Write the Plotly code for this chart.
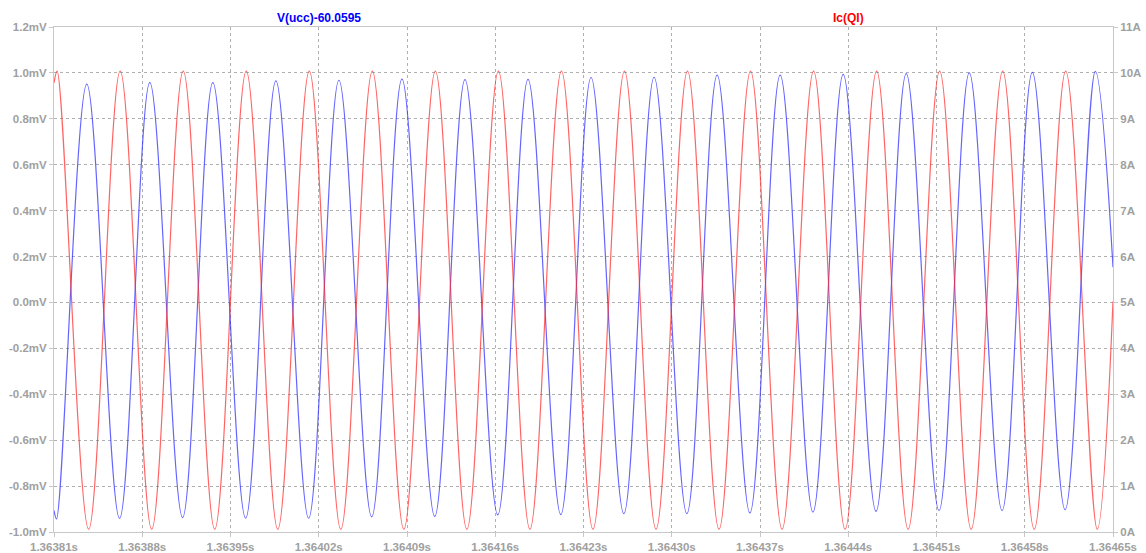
import plotly.graph_objects as go

# V(ucc)-60.0595 in mV: waveform endpoints plus every trough and crest
v_start = (1.36381, -0.906)
v_end = (1.36465, 0.153)
v_trough_t = [1.363812, 1.363862, 1.363912, 1.363962, 1.364012, 1.364062,
              1.364112, 1.364162, 1.364212, 1.364262, 1.364312, 1.364362,
              1.364412, 1.364462, 1.364512, 1.364562, 1.364612]
v_trough = [-0.943, -0.941, -0.937, -0.940, -0.940, -0.934, -0.932, -0.925,
            -0.924, -0.920, -0.920, -0.917, -0.913, -0.910, -0.907, -0.907,
            -0.903]
v_peak_t = [1.363836, 1.363886, 1.363936, 1.363986, 1.364036, 1.364086,
            1.364136, 1.364186, 1.364236, 1.364286, 1.364336, 1.364386,
            1.364436, 1.364486, 1.364536, 1.364586, 1.364636]
v_peak = [0.951, 0.958, 0.958, 0.965, 0.968, 0.973, 0.971, 0.972, 0.980,
          0.981, 0.990, 0.990, 0.994, 0.997, 1.000, 1.002, 1.007]

# Ic(QI) in A: waveform endpoints plus every crest and trough
i_start = (1.36381, 9.78)
i_end = (1.36465, 5.02)
i_peak_t = [1.3638125, 1.3638625, 1.3639125, 1.3639625, 1.3640125, 1.3640625,
            1.3641125, 1.3641625, 1.3642125, 1.3642625, 1.3643125, 1.3643625,
            1.3644125, 1.3644625, 1.3645125, 1.3645625, 1.3646125]
i_peak = [10.04, 10.04, 10.04, 10.04, 10.04, 10.04, 10.04, 10.04, 10.04,
          10.04, 10.04, 10.04, 10.04, 10.04, 10.04, 10.04, 10.04]
i_trough_t = [1.3638375, 1.3638875, 1.3639375, 1.3639875, 1.3640375,
              1.3640875, 1.3641375, 1.3641875, 1.3642375, 1.3642875,
              1.3643375, 1.3643875, 1.3644375, 1.3644875, 1.3645375,
              1.3645875, 1.3646375]
i_trough = [0.06, 0.06, 0.06, 0.06, 0.06, 0.06, 0.06, 0.06, 0.06, 0.06,
            0.06, 0.06, 0.06, 0.06, 0.06, 0.06, 0.06]

# Axis ticks
x_ticks = [1.36381, 1.36388, 1.36395, 1.36402, 1.36409, 1.36416, 1.36423,
           1.36430, 1.36437, 1.36444, 1.36451, 1.36458, 1.36465]
x_labels = ["1.36381s", "1.36388s", "1.36395s", "1.36402s", "1.36409s",
            "1.36416s", "1.36423s", "1.36430s", "1.36437s", "1.36444s",
            "1.36451s", "1.36458s", "1.36465s"]
mv_ticks = [-1.0, -0.8, -0.6, -0.4, -0.2, 0.0, 0.2, 0.4, 0.6, 0.8, 1.0, 1.2]
mv_labels = ["-1.0mV", "-0.8mV", "-0.6mV", "-0.4mV", "-0.2mV", "0.0mV",
             "0.2mV", "0.4mV", "0.6mV", "0.8mV", "1.0mV", "1.2mV"]
a_ticks = [0, 1, 2, 3, 4, 5, 6, 7, 8, 9, 10, 11]
a_labels = ["0A", "1A", "2A", "3A", "4A", "5A", "6A", "7A", "8A", "9A",
            "10A", "11A"]


def series(start, end, *pairs):
    pts = []
    for ts, vs in pairs:
        pts.extend(zip(ts, vs))
    pts.sort()
    pts = [start] + pts + [end]
    return [p[0] for p in pts], [p[1] for p in pts]


vx, vy = series(v_start, v_end, (v_trough_t, v_trough), (v_peak_t, v_peak))
ix, iy = series(i_start, i_end, (i_peak_t, i_peak), (i_trough_t, i_trough))

BLUE = "rgba(40,40,255,0.72)"
RED = "rgba(255,40,40,0.72)"
TXT = "#a0a0a0"
FRAME = "#c8c8c8"
GRID = "#b0b0b0"
FONT = "Liberation Sans"

fig = go.Figure()
fig.add_trace(go.Scatter(x=vx, y=vy, mode="lines", name="V(ucc)-60.0595",
                         line=dict(color=BLUE, width=1.2, shape="spline", smoothing=1),
                         yaxis="y"))
fig.add_trace(go.Scatter(x=ix, y=iy, mode="lines", name="Ic(QI)",
                         line=dict(color=RED, width=1.2, shape="spline", smoothing=1),
                         yaxis="y2"))

tickfont = dict(family=FONT, size=11.5, color=TXT, weight="bold")

fig.update_layout(
    width=1146, height=553,
    margin=dict(l=54, r=33, t=27, b=21),
    paper_bgcolor="white", plot_bgcolor="white",
    showlegend=False,
    xaxis=dict(range=[1.36381, 1.36465], tickvals=x_ticks, ticktext=x_labels,
               showgrid=True, gridcolor=GRID, griddash="dot", gridwidth=1,
               showline=True, linecolor=FRAME, linewidth=1, mirror=True,
               ticks="outside", ticklen=4, tickcolor=FRAME, automargin=False,
               tickfont=tickfont, zeroline=False),
    yaxis=dict(range=[-1.0, 1.2], tickvals=mv_ticks, ticktext=mv_labels,
               showgrid=True, gridcolor=GRID, griddash="dot", gridwidth=1,
               showline=True, linecolor=FRAME, linewidth=1, automargin=False,
               ticks="outside", ticklen=4, tickcolor=FRAME,
               tickfont=tickfont, zeroline=False),
    yaxis2=dict(range=[0, 11], tickvals=a_ticks, ticktext=a_labels,
                overlaying="y", side="right", showgrid=False,
                showline=True, linecolor=FRAME, linewidth=1, automargin=False,
                ticks="outside", ticklen=4, tickcolor=FRAME,
                tickfont=tickfont, zeroline=False),
    annotations=[
        dict(text="V(ucc)-60.0595", x=0.25, y=1, xref="paper", yref="paper",
             xanchor="center", yanchor="middle", yshift=9, showarrow=False,
             font=dict(family=FONT, size=12, color="#0000ff", weight="bold")),
        dict(text="Ic(QI)", x=0.75, y=1, xref="paper", yref="paper",
             xanchor="center", yanchor="middle", yshift=9, showarrow=False,
             font=dict(family=FONT, size=12, color="#ff0000", weight="bold")),
    ],
)

fig.write_html("out.html")
